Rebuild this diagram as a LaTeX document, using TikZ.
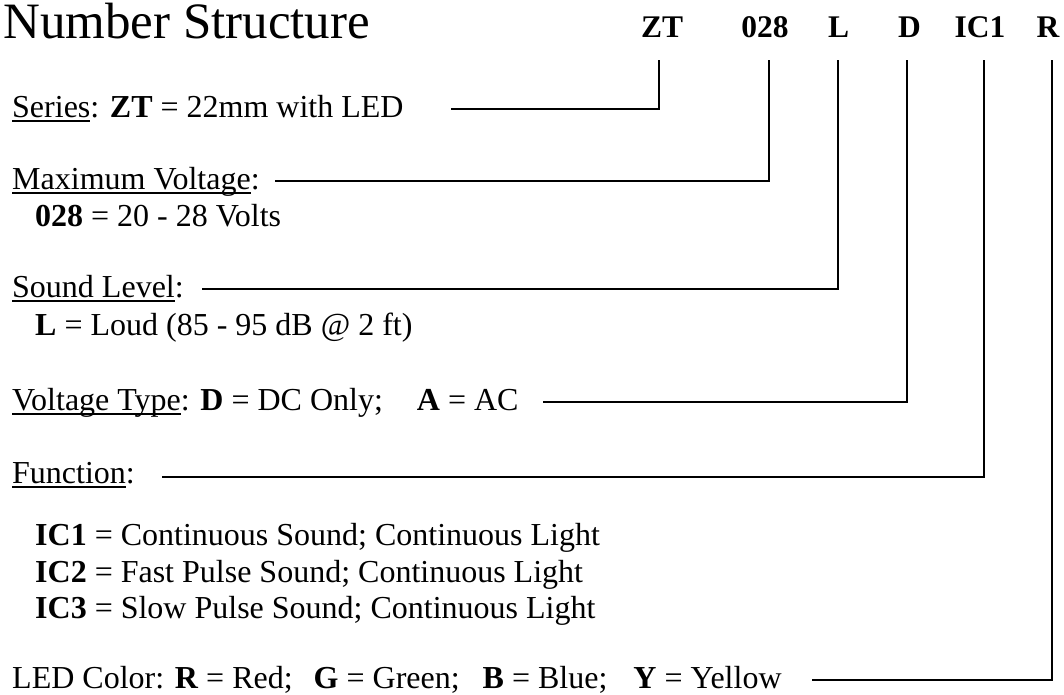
\documentclass[tikz,border=0pt]{standalone}
\usepackage{fontspec}
\setmainfont{Liberation Serif}
\newcommand\myul[1]{\setbox0\hbox{#1}\rlap{\rule[-4.6pt]{\wd0}{1.6pt}}\box0}
\begin{document}
\begin{tikzpicture}[x=1pt,y=-1pt,
  txt/.style={anchor=base west,inner sep=0,font=\fontsize{32}{36}\selectfont},
  code/.style={anchor=base,inner sep=0,font=\fontsize{31.5}{36}\selectfont\bfseries},
  conn/.style={line width=1.8pt,line join=miter}]
\useasboundingbox (0,0) rectangle (1064,694);
\node[anchor=base west,inner sep=0,text height=34pt,text depth=0pt,font=\fontsize{51}{56}\selectfont] (title) at (3,38.5) {Number Structure};
% header codes
\node[code] (czt) at (662,37) {ZT};
\node[code] (c028) at (765,37) {028};
\node[code] (cl) at (838.5,37) {L};
\node[code] (cd) at (909.5,37) {D};
\node[code] (cic) at (980,37) {IC1};
\node[code] (cr) at (1048,37) {R};
% feet of the vertical leaders
\coordinate (fzt) at (659,60);
\coordinate (f028) at (769,60);
\coordinate (fl) at (838,60);
\coordinate (fd) at (907,60);
\coordinate (fic) at (984,60);
\coordinate (fr) at (1052,60);
% labels
\node[txt] (series) at (12,117) {\myul{Series}: \textbf{ZT} = 22mm with LED};
\node[txt] (maxv) at (12,189) {\myul{Maximum Voltage}:};
\node[txt] (maxvv) at (35,226) {\textbf{028} = 20 - 28 Volts};
\node[txt] (sound) at (12,297) {\myul{Sound Level}:};
\node[txt] (soundv) at (35,335) {\textbf{L} = Loud (85 - 95 dB @ 2 ft)};
\node[txt] (vtype) at (12,410) {\myul{Voltage Type}: \textbf{D} = DC Only;\hspace{34pt}\textbf{A} = AC};
\node[txt] (func) at (12,483) {\myul{Function}:};
\node[txt] (ic1) at (35,545) {\textbf{IC1} = Continuous Sound; Continuous Light};
\node[txt] (ic2) at (35,582) {\textbf{IC2} = Fast Pulse Sound; Continuous Light};
\node[txt] (ic3) at (35,618) {\textbf{IC3} = Slow Pulse Sound; Continuous Light};
\node[txt] (led) at (12,688) {LED Color: \textbf{R} = Red;\hspace{21pt}\textbf{G} = Green;\hspace{23pt}\textbf{B} = Blue;\hspace{26pt}\textbf{Y} = Yellow};
% leader starts
\coordinate (szt) at (451,109);
\coordinate (s028) at (275,181);
\coordinate (sl) at (202,289);
\coordinate (sd) at (543,402);
\coordinate (sic) at (162,477);
\coordinate (sr) at (812,680);
% connectors
\draw[conn] (szt) -| (fzt);
\draw[conn] (s028) -| (f028);
\draw[conn] (sl) -| (fl);
\draw[conn] (sd) -| (fd);
\draw[conn] (sic) -| (fic);
\draw[conn] (sr) -| (fr);
\end{tikzpicture}
\end{document}
